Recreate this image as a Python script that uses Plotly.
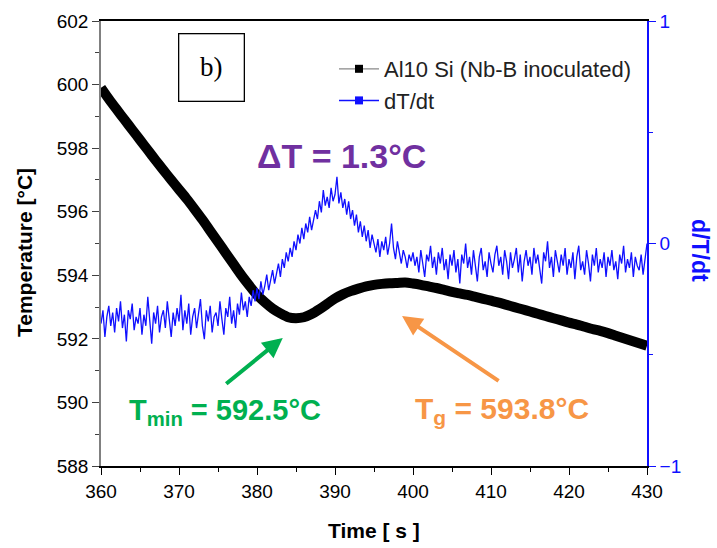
import plotly.graph_objects as go

# ---------------- data ----------------
time_T = list(range(360, 431))
temperature = [
    599.9, 599.55, 599.22, 598.9, 598.58, 598.26, 597.94, 597.62, 597.31, 597.0,
    596.7, 596.4, 596.08, 595.75, 595.4, 595.05, 594.7, 594.35, 594.0, 593.68,
    593.38, 593.15, 592.95, 592.8, 592.68, 592.65, 592.68, 592.78, 592.93, 593.1,
    593.27, 593.4, 593.5, 593.58, 593.65, 593.7, 593.73, 593.75, 593.76, 593.77,
    593.74, 593.7, 593.65, 593.6, 593.54, 593.48, 593.43, 593.38, 593.32, 593.26,
    593.2, 593.14, 593.07, 593.0, 592.93, 592.86, 592.79, 592.72, 592.65, 592.58,
    592.51, 592.45, 592.38, 592.31, 592.25, 592.18, 592.1, 592.02, 591.94, 591.86,
    591.78,
]

dtdt = [
    -0.36, -0.30, -0.42, -0.33, -0.28, -0.37, -0.31, -0.40, -0.29, -0.35, -0.26, -0.38, -0.32, -0.44, -0.30, -0.34, -0.27, -0.39, -0.33, -0.36,
    -0.29, -0.41, -0.32, -0.37, -0.24, -0.35, -0.45, -0.31, -0.36, -0.28, -0.40, -0.33, -0.30, -0.38, -0.26, -0.34, -0.42, -0.31, -0.37, -0.29,
    -0.35, -0.23, -0.39, -0.30, -0.36, -0.27, -0.41, -0.33, -0.29, -0.38, -0.32, -0.25, -0.37, -0.43, -0.30, -0.35, -0.28, -0.40, -0.33, -0.31,
    -0.37, -0.26, -0.34, -0.41, -0.29, -0.33, -0.24, -0.36, -0.30, -0.38, -0.27, -0.32, -0.22, -0.30, -0.26, -0.33, -0.24, -0.28, -0.21, -0.26,
    -0.20, -0.25, -0.17, -0.23, -0.19, -0.14, -0.21, -0.16, -0.12, -0.18, -0.13, -0.09, -0.15, -0.07, -0.11, -0.04, -0.08, -0.02, -0.06, 0.01,
    -0.03, 0.04, 0.00, 0.07, 0.02, 0.09, 0.05, 0.12, 0.06, 0.10, 0.15, 0.11, 0.19, 0.14, 0.24, 0.17, 0.21, 0.16, 0.25, 0.19,
    0.22, 0.30, 0.18, 0.23, 0.16, 0.20, 0.13, 0.19, 0.11, 0.15, 0.08, 0.13, 0.05, 0.10, 0.03, 0.08, 0.01, 0.06, -0.02, 0.04,
    0.00, -0.04, 0.02, -0.06, 0.01, -0.03, 0.03, -0.05, 0.00, 0.09, -0.02, -0.07, 0.01, -0.04, -0.09, -0.03, -0.06, -0.11, -0.05, -0.08,
    -0.04, -0.10, -0.06, -0.13, -0.03, -0.09, -0.15, -0.05, -0.08, -0.01, -0.11, -0.06, -0.14, -0.04, -0.09, -0.02, -0.12, -0.07, -0.16, -0.05,
    -0.10, -0.03, -0.13, -0.07, -0.18, -0.05, -0.09, 0.00, -0.11, -0.06, -0.14, -0.03, -0.10, -0.17, -0.06, -0.02, -0.12, -0.08, -0.15, -0.04,
    -0.09, -0.13, -0.05, -0.01, -0.10, -0.06, -0.14, -0.03, -0.08, -0.16, -0.04, -0.11, -0.07, -0.02, -0.13, -0.05, -0.17, -0.08, -0.03, -0.10,
    -0.06, -0.14, -0.02, -0.09, -0.05, -0.12, -0.18, -0.04, -0.08, 0.01, -0.11, -0.06, -0.15, -0.03, -0.09, -0.13, -0.05, -0.10, -0.02, -0.14,
    -0.07, -0.11, -0.04, -0.16, -0.06, -0.01, -0.12, -0.08, -0.14, -0.03, -0.09, -0.17, -0.05, -0.10, -0.02, -0.13, -0.07, -0.11, -0.04, -0.15,
    -0.06, -0.10, -0.03, -0.12, -0.08, -0.16, -0.05, -0.09, -0.01, -0.13, -0.07, -0.11, -0.04, -0.15, -0.06, -0.10, -0.12, -0.05, -0.14, -0.08,
    0.0,
]
time_d = [360 + 0.25 * i for i in range(len(dtdt))]

t_min_label = "T<sub>min</sub> = 592.5°C"
t_g_label = "T<sub>g</sub> = 593.8°C"
delta_label = "ΔT = 1.3°C"
series_names = ["Al10 Si (Nb-B inoculated)", "dT/dt"]
x_title = "Time [ s ]"
y_title = "Temperature [°C]"
y2_title = "d/T/dt"

FONT = "Liberation Sans, Arial, sans-serif"
BLUE = "#1010ff"

# plot-area geometry (pixels) used for paper-coordinate conversions
L, R, T, B = 101, 70, 21, 82
W, H = 717, 548
PW, PH = W - L - R, H - T - B


def px(x):
    return (x - L) / PW


def py(y):
    return 1 - (y - T) / PH


fig = go.Figure()

fig.add_trace(go.Scatter(
    x=time_T, y=temperature, mode="lines",
    line=dict(color="black", width=10, shape="spline", smoothing=0.8),
    showlegend=False, yaxis="y",
))
fig.add_trace(go.Scatter(
    x=time_d, y=dtdt, mode="lines",
    line=dict(color=BLUE, width=1.3), showlegend=False, yaxis="y2",
))
# legend entries
fig.add_trace(go.Scatter(
    x=[None], y=[None], mode="lines+markers", name=series_names[0],
    line=dict(color="#888888", width=1.2),
    marker=dict(symbol="square", color="black", size=8), yaxis="y",
))
fig.add_trace(go.Scatter(
    x=[None], y=[None], mode="lines+markers", name=series_names[1],
    line=dict(color=BLUE, width=1.5),
    marker=dict(symbol="square", color=BLUE, size=8), yaxis="y2",
))

fig.update_layout(
    width=W, height=H,
    margin=dict(l=L, r=R, t=T, b=B, autoexpand=False),
    paper_bgcolor="white", plot_bgcolor="white",
    font=dict(family=FONT, size=19, color="black"),
    xaxis=dict(
        range=[360, 430], dtick=10, tick0=360, automargin=False,
        showgrid=False, zeroline=False,
        showline=True, linecolor="black", linewidth=1.5, mirror=True,
        ticks="outside", ticklen=7, tickwidth=1.2, tickcolor="black",
        minor=dict(dtick=5, ticks="outside", ticklen=4, tickcolor="black"),
        tickfont=dict(size=19),
    ),
    yaxis=dict(
        range=[588, 602], dtick=2, tick0=588, automargin=False,
        showgrid=False, zeroline=False,
        showline=True, linecolor="#808080", linewidth=1.5,
        ticks="outside", ticklen=7, tickwidth=1.2, tickcolor="#404040",
        minor=dict(dtick=1, ticks="outside", ticklen=4, tickcolor="#404040"),
        tickfont=dict(size=19),
    ),
    yaxis2=dict(
        range=[-1, 1], dtick=1, overlaying="y", side="right", automargin=False,
        showgrid=False, zeroline=False,
        showline=True, linecolor=BLUE, linewidth=1.5,
        ticks="outside", ticklen=7, tickwidth=1.2, tickcolor=BLUE,
        minor=dict(dtick=0.5, ticks="outside", ticklen=4, tickcolor=BLUE),
        tickfont=dict(size=19, color=BLUE),
    ),
    legend=dict(
        x=px(334), y=py(48), xanchor="left", yanchor="top",
        bgcolor="rgba(0,0,0,0)", font=dict(size=22, color="#222222"),
        tracegroupgap=0, itemwidth=40,
    ),
)

annotations = [
    # axis titles
    dict(xref="paper", yref="paper", x=px(374), y=py(530), text="<b>" + x_title + "</b>",
         showarrow=False, font=dict(size=21), xanchor="center", yanchor="middle"),
    dict(xref="paper", yref="paper", x=px(24), y=py(253), text="<b>" + y_title + "</b>",
         showarrow=False, font=dict(size=21), textangle=-90, xanchor="center", yanchor="middle"),
    dict(xref="paper", yref="paper", x=px(700), y=py(250), text="<b>" + y2_title + "</b>",
         showarrow=False, font=dict(size=23, color=BLUE), textangle=90, xanchor="center", yanchor="middle"),
    # panel label
    dict(xref="paper", yref="paper", x=px(211), y=py(67), text="b)", showarrow=False,
         font=dict(family="Liberation Serif, Times New Roman, serif", size=27, color="black"),
         bordercolor="black", borderwidth=1.3, width=64, height=66, borderpad=0,
         bgcolor="white", xanchor="center", yanchor="middle"),
    # text annotations
    dict(xref="paper", yref="paper", x=px(341), y=py(156),
         text="<b>" + delta_label + "</b>", showarrow=False,
         font=dict(size=34, color="#7030A0"), xanchor="center", yanchor="middle"),
    dict(xref="paper", yref="paper", x=px(225), y=py(412),
         text="<b>" + t_min_label + "</b>", showarrow=False,
         font=dict(size=29, color="#00B050"), xanchor="center", yanchor="middle"),
    dict(xref="paper", yref="paper", x=px(502), y=py(410),
         text="<b>" + t_g_label + "</b>", showarrow=False,
         font=dict(size=30, color="#F79646"), xanchor="center", yanchor="middle"),
    # arrows
    dict(xref="x", yref="y", x=383.3, y=592.03, text="", showarrow=True,
         ax=-58, ay=47, arrowcolor="#00B050", arrowwidth=4, arrowhead=2, arrowsize=1),
    dict(xref="x", yref="y", x=398.6, y=592.72, text="", showarrow=True,
         ax=98, ay=66, arrowcolor="#F79646", arrowwidth=4, arrowhead=2, arrowsize=1),
]
fig.update_layout(annotations=annotations)

fig.write_html(
    "out.html",
    config={"displayModeBar": False},
    post_script="document.body.style.margin='0px';document.body.style.overflow='hidden';",
)
